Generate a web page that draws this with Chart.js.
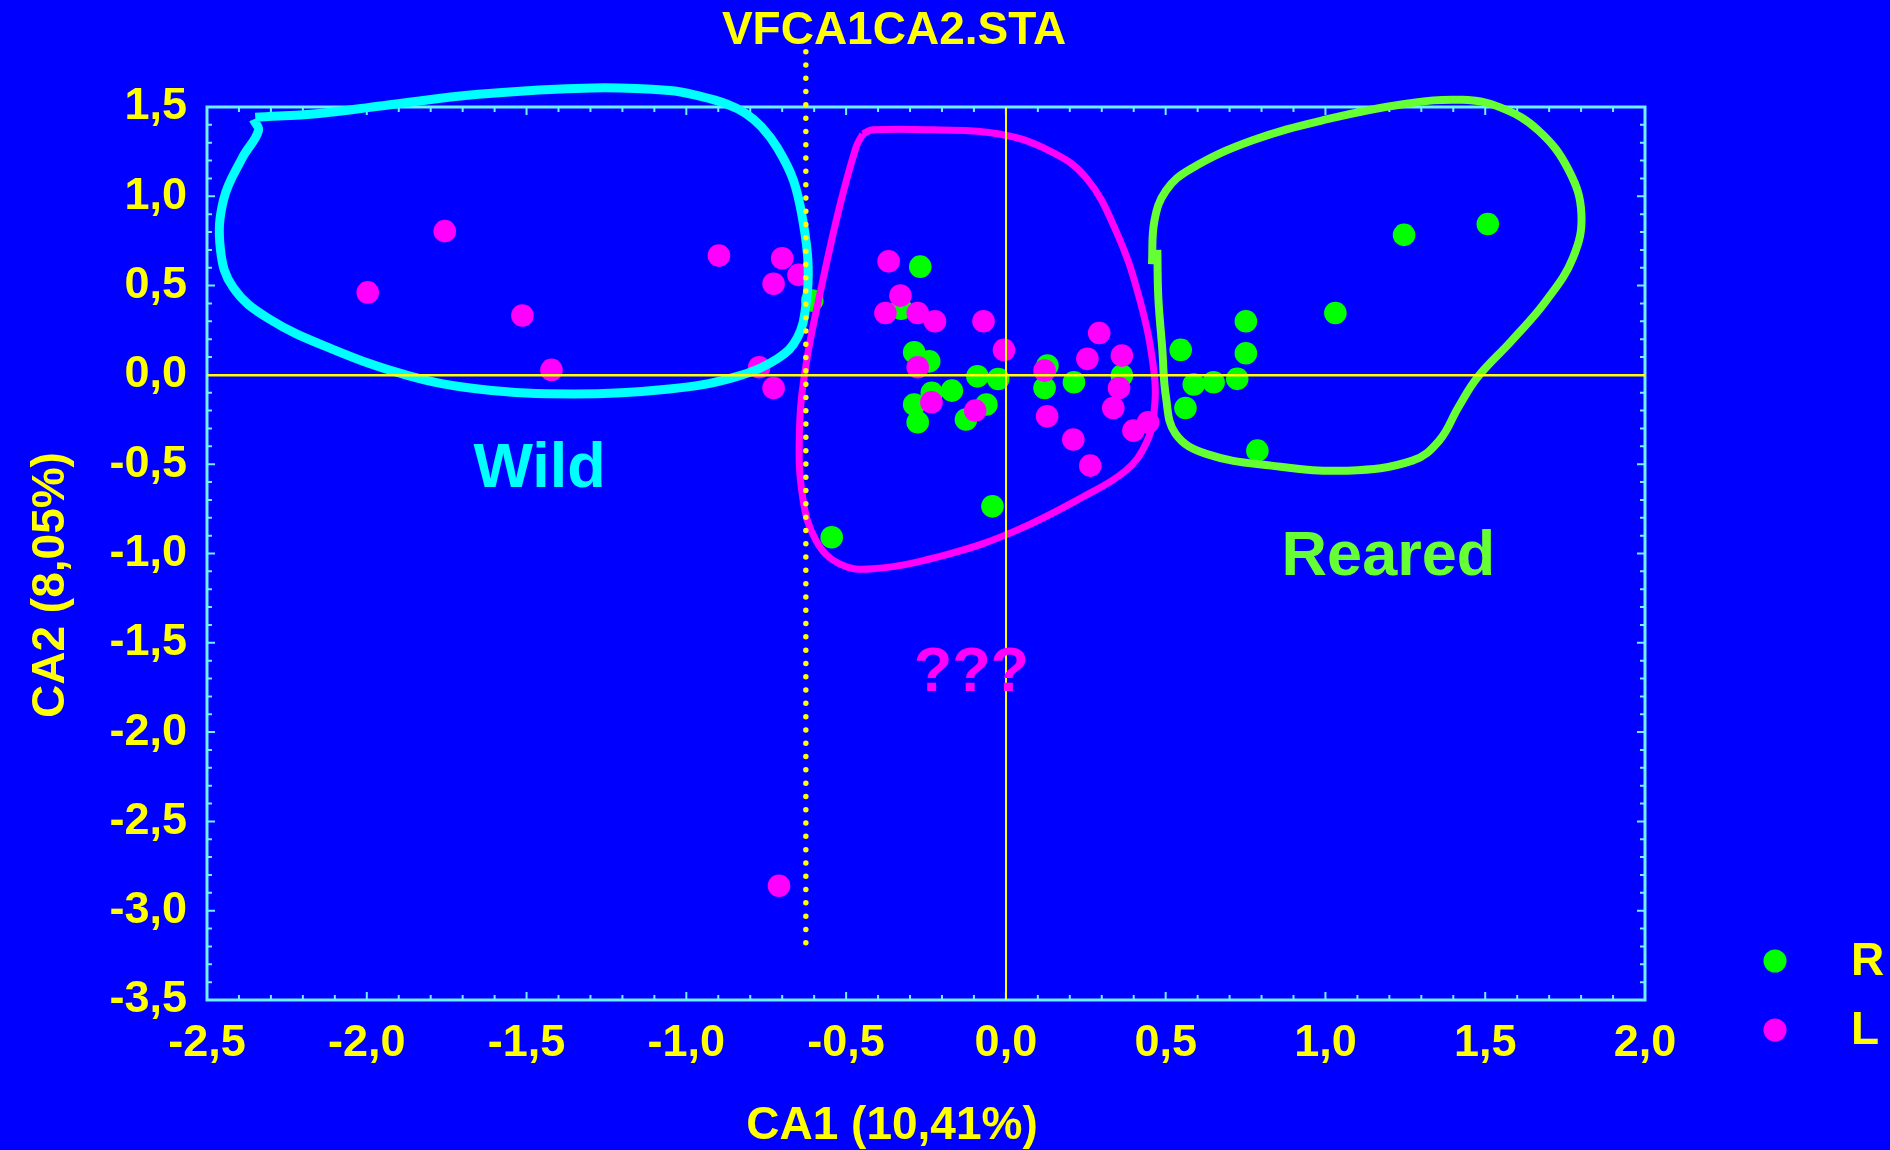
<!DOCTYPE html>
<html>
<head>
<meta charset="utf-8">
<title>VFCA1CA2.STA</title>
<script src="https://cdn.jsdelivr.net/npm/chart.js@4.4.1/dist/chart.umd.min.js"></script>
<style>
  html, body { margin: 0; padding: 0; background: #0000ff; }
  #wrap { width: 1890px; height: 1150px; }
</style>
</head>
<body>
<div id="wrap"><canvas id="ca-chart"></canvas></div>
<script>
// scores: [CA1, CA2]
const groupR = [
  [-0.268, 0.606], [-0.328, 0.37], [-0.606, 0.416], [-0.287, 0.127], [-0.24, 0.076],
  [-0.089, -0.008], [-0.024, -0.023], [-0.169, -0.088], [-0.232, -0.10], [-0.287, -0.166],
  [-0.276, -0.265], [-0.061, -0.166], [-0.125, -0.25], [0.13, 0.052], [0.121, -0.073],
  [0.213, -0.041], [0.363, -0.004], [-0.042, -0.736], [-0.545, -0.909],
  [0.547, 0.14], [0.588, -0.054], [0.65, -0.041], [0.724, -0.022], [0.751, 0.30],
  [0.751, 0.121], [0.562, -0.185], [0.787, -0.424], [1.031, 0.347], [1.246, 0.784],
  [1.508, 0.845]
];
const groupL = [
  [-1.997, 0.462], [-1.756, 0.805], [-1.513, 0.333], [-1.422, 0.028], [-0.898, 0.668],
  [-0.70, 0.653], [-0.649, 0.56], [-0.727, 0.51], [-0.772, 0.043], [-0.727, -0.073],
  [-0.71, -2.86], [-0.367, 0.636], [-0.33, 0.444], [-0.377, 0.347], [-0.276, 0.347],
  [-0.222, 0.30], [-0.07, 0.30], [-0.006, 0.14], [-0.276, 0.043], [-0.233, -0.153],
  [-0.096, -0.20], [0.121, 0.024], [0.292, 0.235], [0.255, 0.09], [0.363, 0.108],
  [0.354, -0.073], [0.336, -0.185], [0.129, -0.232], [0.211, -0.362], [0.264, -0.508],
  [0.399, -0.312], [0.445, -0.265]
];

// hand drawn group outlines
const hullWild = [
  [-2.349, 1.442], [-2.149, 1.464], [-1.95, 1.507], [-1.651, 1.571], [-1.293, 1.607],
  [-1.053, 1.592], [-0.955, 1.559], [-0.874, 1.517], [-0.814, 1.464], [-0.765, 1.389],
  [-0.715, 1.271], [-0.665, 1.09], [-0.635, 0.86], [-0.619, 0.62], [-0.625, 0.40],
  [-0.652, 0.21], [-0.714, 0.092], [-0.854, -0.015],
  [-1.053, -0.079], [-1.352, -0.107], [-1.651, -0.079], [-1.87, -0.004], [-2.11, 0.146],
  [-2.309, 0.317], [-2.418, 0.489], [-2.458, 0.703], [-2.448, 0.982], [-2.389, 1.217],
  [-2.339, 1.367], [-2.355, 1.43]
];
const hullMid = [
  [-0.448, 1.349], [-0.417, 1.372], [-0.229, 1.372], [-0.021, 1.349], [0.135, 1.256],
  [0.25, 1.106], [0.344, 0.808], [0.417, 0.434], [0.463, 0.024], [0.463, -0.218],
  [0.438, -0.386], [0.375, -0.536], [0.239, -0.685], [0.031, -0.872], [-0.177, -1.002],
  [-0.417, -1.086], [-0.521, -1.058], [-0.594, -0.928], [-0.636, -0.685], [-0.646, -0.312],
  [-0.625, 0.062], [-0.573, 0.528], [-0.521, 0.938], [-0.469, 1.274], [-0.448, 1.349]
];
const hullReared = [
  [0.457, 0.62], [0.465, 0.864], [0.501, 1.032], [0.578, 1.153], [0.77, 1.312],
  [1.009, 1.433], [1.248, 1.517], [1.428, 1.54], [1.547, 1.498], [1.667, 1.368],
  [1.762, 1.144], [1.801, 0.901], [1.775, 0.658], [1.691, 0.416], [1.583, 0.192],
  [1.476, -0.013], [1.416, -0.181], [1.356, -0.368], [1.272, -0.48], [1.069, -0.536],
  [0.83, -0.508], [0.627, -0.442], [0.531, -0.33], [0.501, -0.125], [0.489, 0.155],
  [0.477, 0.434], [0.474, 0.70]
];
const cutLine = [[-0.626, 1.81], [-0.626, -3.2]];

// group labels: [text, CA1, CA2, colour]
const groupLabels = [
  ['Wild', -1.459, -0.533, '#00ffff'],
  ['Reared', 1.197, -1.024, '#66ff33'],
  ['???', -0.108, -1.672, '#ff00ff']
];

const FONT = '"Liberation Sans", Arial, sans-serif';
const YELLOW = '#ffff00';
const FRAME = '#70f0ff';

const pts = arr => arr.map(p => ({ x: p[0], y: p[1] }));
const fmt = v => (Math.abs(v) < 1e-9 ? 0 : v).toFixed(1).replace('.', ',');

function outline(hull, color, width) {
  return {
    label: 'hull',
    data: pts(hull),
    showLine: true,
    borderColor: color,
    borderWidth: width,
    tension: 0.4,
    capBezierPoints: false,
    borderJoinStyle: 'round',
    pointRadius: 0,
    clip: false,
    order: 2
  };
}

const decor = {
  id: 'decor',
  beforeDatasetsDraw(chart) {
    const { ctx, chartArea: a, scales: { x, y } } = chart;
    ctx.save();
    ctx.strokeStyle = FRAME;
    ctx.lineWidth = 2;
    ctx.beginPath();
    for (let i = -25; i <= 20; i++) {
      const px = x.getPixelForValue(i / 10);
      const len = i % 5 === 0 ? 8 : 5;
      ctx.moveTo(px, a.top); ctx.lineTo(px, a.top + len);
      ctx.moveTo(px, a.bottom); ctx.lineTo(px, a.bottom - len);
    }
    for (let i = -35; i <= 15; i++) {
      const py = y.getPixelForValue(i / 10);
      const len = i % 5 === 0 ? 8 : 5;
      ctx.moveTo(a.left, py); ctx.lineTo(a.left + len, py);
      ctx.moveTo(a.right, py); ctx.lineTo(a.right - len, py);
    }
    ctx.stroke();
    ctx.lineWidth = 3;
    ctx.strokeRect(a.left, a.top, a.right - a.left, a.bottom - a.top);
    ctx.restore();
  },
  afterDraw(chart) {
    const { ctx, scales: { x, y } } = chart;
    ctx.save();
    ctx.textBaseline = 'middle';
    ctx.textAlign = 'center';
    ctx.fillStyle = YELLOW;
    ctx.font = 'bold 46px ' + FONT;
    ctx.fillText('VFCA1CA2.STA', 894, 31);
    ctx.fillText('CA1 (10,41%)', 892, 1126);
    ctx.save();
    ctx.translate(51, 585);
    ctx.rotate(-Math.PI / 2);
    ctx.fillText('CA2 (8,05%)', 0, 0);
    ctx.restore();

    ctx.font = 'bold 63px ' + FONT;
    groupLabels.forEach(g => {
      ctx.fillStyle = g[3];
      ctx.fillText(g[0], x.getPixelForValue(g[1]), y.getPixelForValue(g[2]));
    });

    // legend
    const items = [['R', '#00ff00', 961], ['L', '#ff00ff', 1030]];
    ctx.font = 'bold 46px ' + FONT;
    ctx.textAlign = 'left';
    items.forEach(it => {
      ctx.fillStyle = it[1];
      ctx.beginPath();
      ctx.arc(1775, it[2], 11.5, 0, Math.PI * 2);
      ctx.fill();
      ctx.fillStyle = YELLOW;
      ctx.fillText(it[0], 1851, it[2] + 1);
    });
    ctx.restore();
  }
};

const tickFont = { family: FONT, size: 45, weight: 'bold' };
const zeroLine = c => (c.tick && Math.abs(c.tick.value) < 1e-9) ? YELLOW : 'rgba(0,0,0,0)';

new Chart(document.getElementById('ca-chart'), {
  type: 'scatter',
  data: {
    datasets: [
      { label: 'R', data: pts(groupR), backgroundColor: '#00ff00', borderWidth: 0, pointRadius: 11.3, order: 4 },
      { label: 'L', data: pts(groupL), backgroundColor: '#ff00ff', borderWidth: 0, pointRadius: 11.3, order: 3 },
      outline(hullWild, '#00ffff', 9),
      outline(hullMid, '#ff00ff', 7),
      outline(hullReared, '#66ff33', 8),
      {
        label: 'cut', data: pts(cutLine), showLine: true,
        borderColor: YELLOW, borderWidth: 5.5, borderDash: [0, 13.3], borderCapStyle: 'round',
        pointRadius: 0, clip: false, order: 1
      }
    ]
  },
  options: {
    responsive: true,
    maintainAspectRatio: false,
    devicePixelRatio: 1,
    animation: false,
    events: [],
    layout: { padding: { top: 107, right: 245, bottom: 0, left: 0 } },
    plugins: { legend: { display: false }, tooltip: { enabled: false } },
    scales: {
      x: {
        type: 'linear', min: -2.5, max: 2.0,
        afterFit: s => { s.height = 150; },
        border: { display: false },
        grid: { color: zeroLine, lineWidth: 2, drawTicks: false, z: 1 },
        ticks: { stepSize: 0.5, autoSkip: false, maxRotation: 0, color: YELLOW, font: tickFont, padding: 17, callback: fmt }
      },
      y: {
        type: 'linear', min: -3.5, max: 1.5,
        afterFit: s => { s.width = 207; },
        border: { display: false },
        grid: { color: zeroLine, lineWidth: 2.5, drawTicks: false, z: 1 },
        ticks: { stepSize: 0.5, autoSkip: false, color: YELLOW, font: tickFont, padding: 20, callback: fmt }
      }
    }
  },
  plugins: [decor]
});
</script>
</body>
</html>
